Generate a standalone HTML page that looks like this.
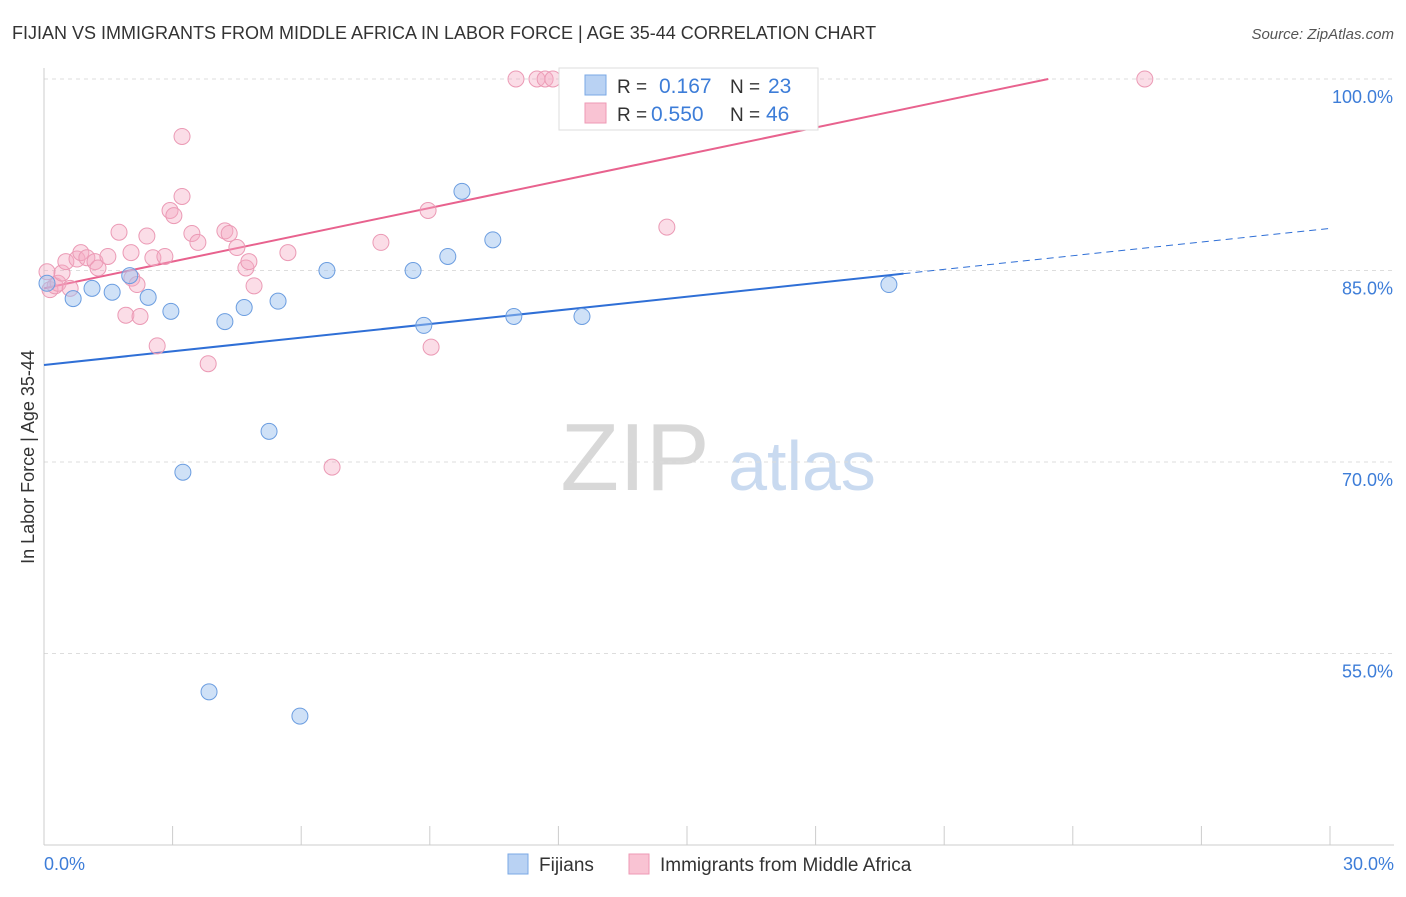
<!DOCTYPE html>
<html><head><meta charset="utf-8"><style>
body{margin:0;background:#fff;font-family:"Liberation Sans",sans-serif}
svg text{font-family:"Liberation Sans",sans-serif}
</style></head><body>
<svg id="c" width="1406" height="892" xmlns="http://www.w3.org/2000/svg">
<text x="12" y="39" font-size="18" fill="#333">FIJIAN VS IMMIGRANTS FROM MIDDLE AFRICA IN LABOR FORCE | AGE 35-44 CORRELATION CHART</text>
<text x="1394" y="39" font-size="15" fill="#555" text-anchor="end" font-style="italic">Source: ZipAtlas.com</text>
<text transform="translate(34,457) rotate(-90)" font-size="18" fill="#333" text-anchor="middle">In Labor Force | Age 35-44</text>
<g>
<text x="635" y="490" font-size="96" fill="#d8d8d8" font-family="Liberation Serif" text-anchor="middle">ZIP</text>
<text x="802" y="490" font-size="70" fill="#c9daf0" text-anchor="middle">atlas</text>
</g>
<g id="grid"></g><g id="axes"></g><g id="lines"></g><g id="pts"></g>
<g>
<rect x="559" y="68" width="259" height="62" fill="#fff" stroke="#ddd"/>
<rect x="585" y="75" width="21" height="20" fill="#b9d2f3" stroke="#7aa8e6"/>
<rect x="585" y="103" width="21" height="20" fill="#f9c3d3" stroke="#ee9ab5"/>
<text x="617" y="93" font-size="19" fill="#333">R = </text><text x="659" y="93" font-size="21" fill="#3d7dd8">0.167</text>
<text x="730" y="93" font-size="19" fill="#333">N = </text><text x="768" y="93" font-size="21" fill="#3d7dd8">23</text>
<text x="617" y="121" font-size="19" fill="#333">R = </text><text x="651" y="121" font-size="21" fill="#3d7dd8">0.550</text>
<text x="730" y="121" font-size="19" fill="#333">N = </text><text x="766" y="121" font-size="21" fill="#3d7dd8">46</text>
</g>
<g>
<rect x="508" y="854" width="20" height="20" fill="#b9d2f3" stroke="#7aa8e6"/>
<text x="539" y="871" font-size="19" fill="#333">Fijians</text>
<rect x="629" y="854" width="20" height="20" fill="#f9c3d3" stroke="#ee9ab5"/>
<text x="660" y="871" font-size="19" fill="#333">Immigrants from Middle Africa</text>
</g>
</svg>
<script>
const fijX=[0.07,0.68,1.12,1.59,2.0,2.43,2.96,3.24,3.85,4.22,4.67,5.25,5.46,5.97,6.6,8.61,8.86,9.42,9.75,10.47,10.96,12.55,19.71];
const fijY=[84.0,82.8,83.6,83.3,84.6,82.9,81.8,69.2,52.0,81.0,82.1,72.4,82.6,50.1,85.0,85.0,80.7,86.1,91.2,87.4,81.4,81.4,83.9];
const imX=[0.07,0.14,0.26,0.33,0.42,0.51,0.61,0.77,0.86,1.0,1.19,1.26,1.49,1.75,1.91,2.03,2.05,2.24,2.17,2.40,2.54,2.64,2.82,2.94,3.03,3.22,3.22,3.45,3.59,3.83,4.22,4.32,4.50,4.71,4.78,4.90,5.69,6.72,7.86,8.96,9.03,11.01,11.50,11.69,11.87,14.53,25.68];
const imY=[84.9,83.5,83.8,84.0,84.8,85.7,83.6,85.9,86.4,86.0,85.7,85.2,86.1,88.0,81.5,86.4,84.4,81.4,83.9,87.7,86.0,79.1,86.1,89.7,89.3,95.5,90.8,87.9,87.2,77.7,88.1,87.9,86.8,85.2,85.7,83.8,86.4,69.6,87.2,89.7,79.0,100,100,100,100,88.4,100];
const yTicks=[100,85,70,55];
const yTickLabels=["100.0%","85.0%","70.0%","55.0%"];
const fijLine=[77.6,88.3]; const fijSolidEnd=20.05;
const imLine=[83.6,104.6];
const NS="http://www.w3.org/2000/svg";
const X=v=>44+v/30*1286, Y=v=>79+(100-v)*12.767;
function mk(p,t,a){const e=document.createElementNS(NS,t);for(const k in a)e.setAttribute(k,a[k]);p.appendChild(e);return e;}
const grid=document.getElementById('grid'),axes=document.getElementById('axes'),lines=document.getElementById('lines'),pts=document.getElementById('pts');
yTicks.forEach((t,i)=>{
 const l=mk(grid,'line',{x1:44,x2:1394,y1:Y(t),y2:Y(t),stroke:'#ddd','stroke-dasharray':'4,4'});
 
 
 const tx=mk(axes,'text',{x:1393,y:Y(t)+24,'font-size':18,fill:'#3d7dd8','text-anchor':'end'});
 tx.textContent=yTickLabels[i];
 
 
});
const ax=mk(axes,'line',{x1:44,x2:44,y1:68,y2:845,stroke:'#ccc'});


const xa=mk(axes,'line',{x1:44,x2:1394,y1:845,y2:845,stroke:'#ccc'});


for(let i=0;i<=10;i++){const t=mk(axes,'line',{x1:X(i*3),x2:X(i*3),y1:826,y2:845,stroke:'#ccc'});
 
 }
[["0.0%",44,'start'],["30.0%",1394,'end']].forEach(d=>{const t=mk(axes,'text',{x:d[1],y:870,'font-size':18,fill:'#3d7dd8','text-anchor':d[2]});t.textContent=d[0];
 
 });
const fy=x=>fijLine[0]+(fijLine[1]-fijLine[0])*x/30;
let a=mk(lines,'line',{x1:X(0),y1:Y(fy(0)),x2:X(fijSolidEnd),y2:Y(fy(fijSolidEnd)),stroke:'#2f6fd6','stroke-width':2});


a=mk(lines,'line',{x1:X(fijSolidEnd),y1:Y(fy(fijSolidEnd)),x2:X(30),y2:Y(fy(30)),stroke:'#2f6fd6','stroke-width':1,'stroke-dasharray':'7,5'});


const xEnd=(100-imLine[0])/(imLine[1]-imLine[0])*30;
a=mk(lines,'line',{x1:X(0),y1:Y(imLine[0]),x2:X(xEnd),y2:Y(100),stroke:'#e8628e','stroke-width':2});


imX.forEach((x,i)=>{const c=mk(pts,'circle',{cx:X(x),cy:Y(imY[i]),r:8,fill:'rgba(246,170,196,0.4)',stroke:'#eb9ab5','stroke-width':1});
 
 });
fijX.forEach((x,i)=>{const c=mk(pts,'circle',{cx:X(x),cy:Y(fijY[i]),r:8,fill:'rgba(160,195,240,0.5)',stroke:'#6b9de0','stroke-width':1});
 
 });
</script>
</body></html>
